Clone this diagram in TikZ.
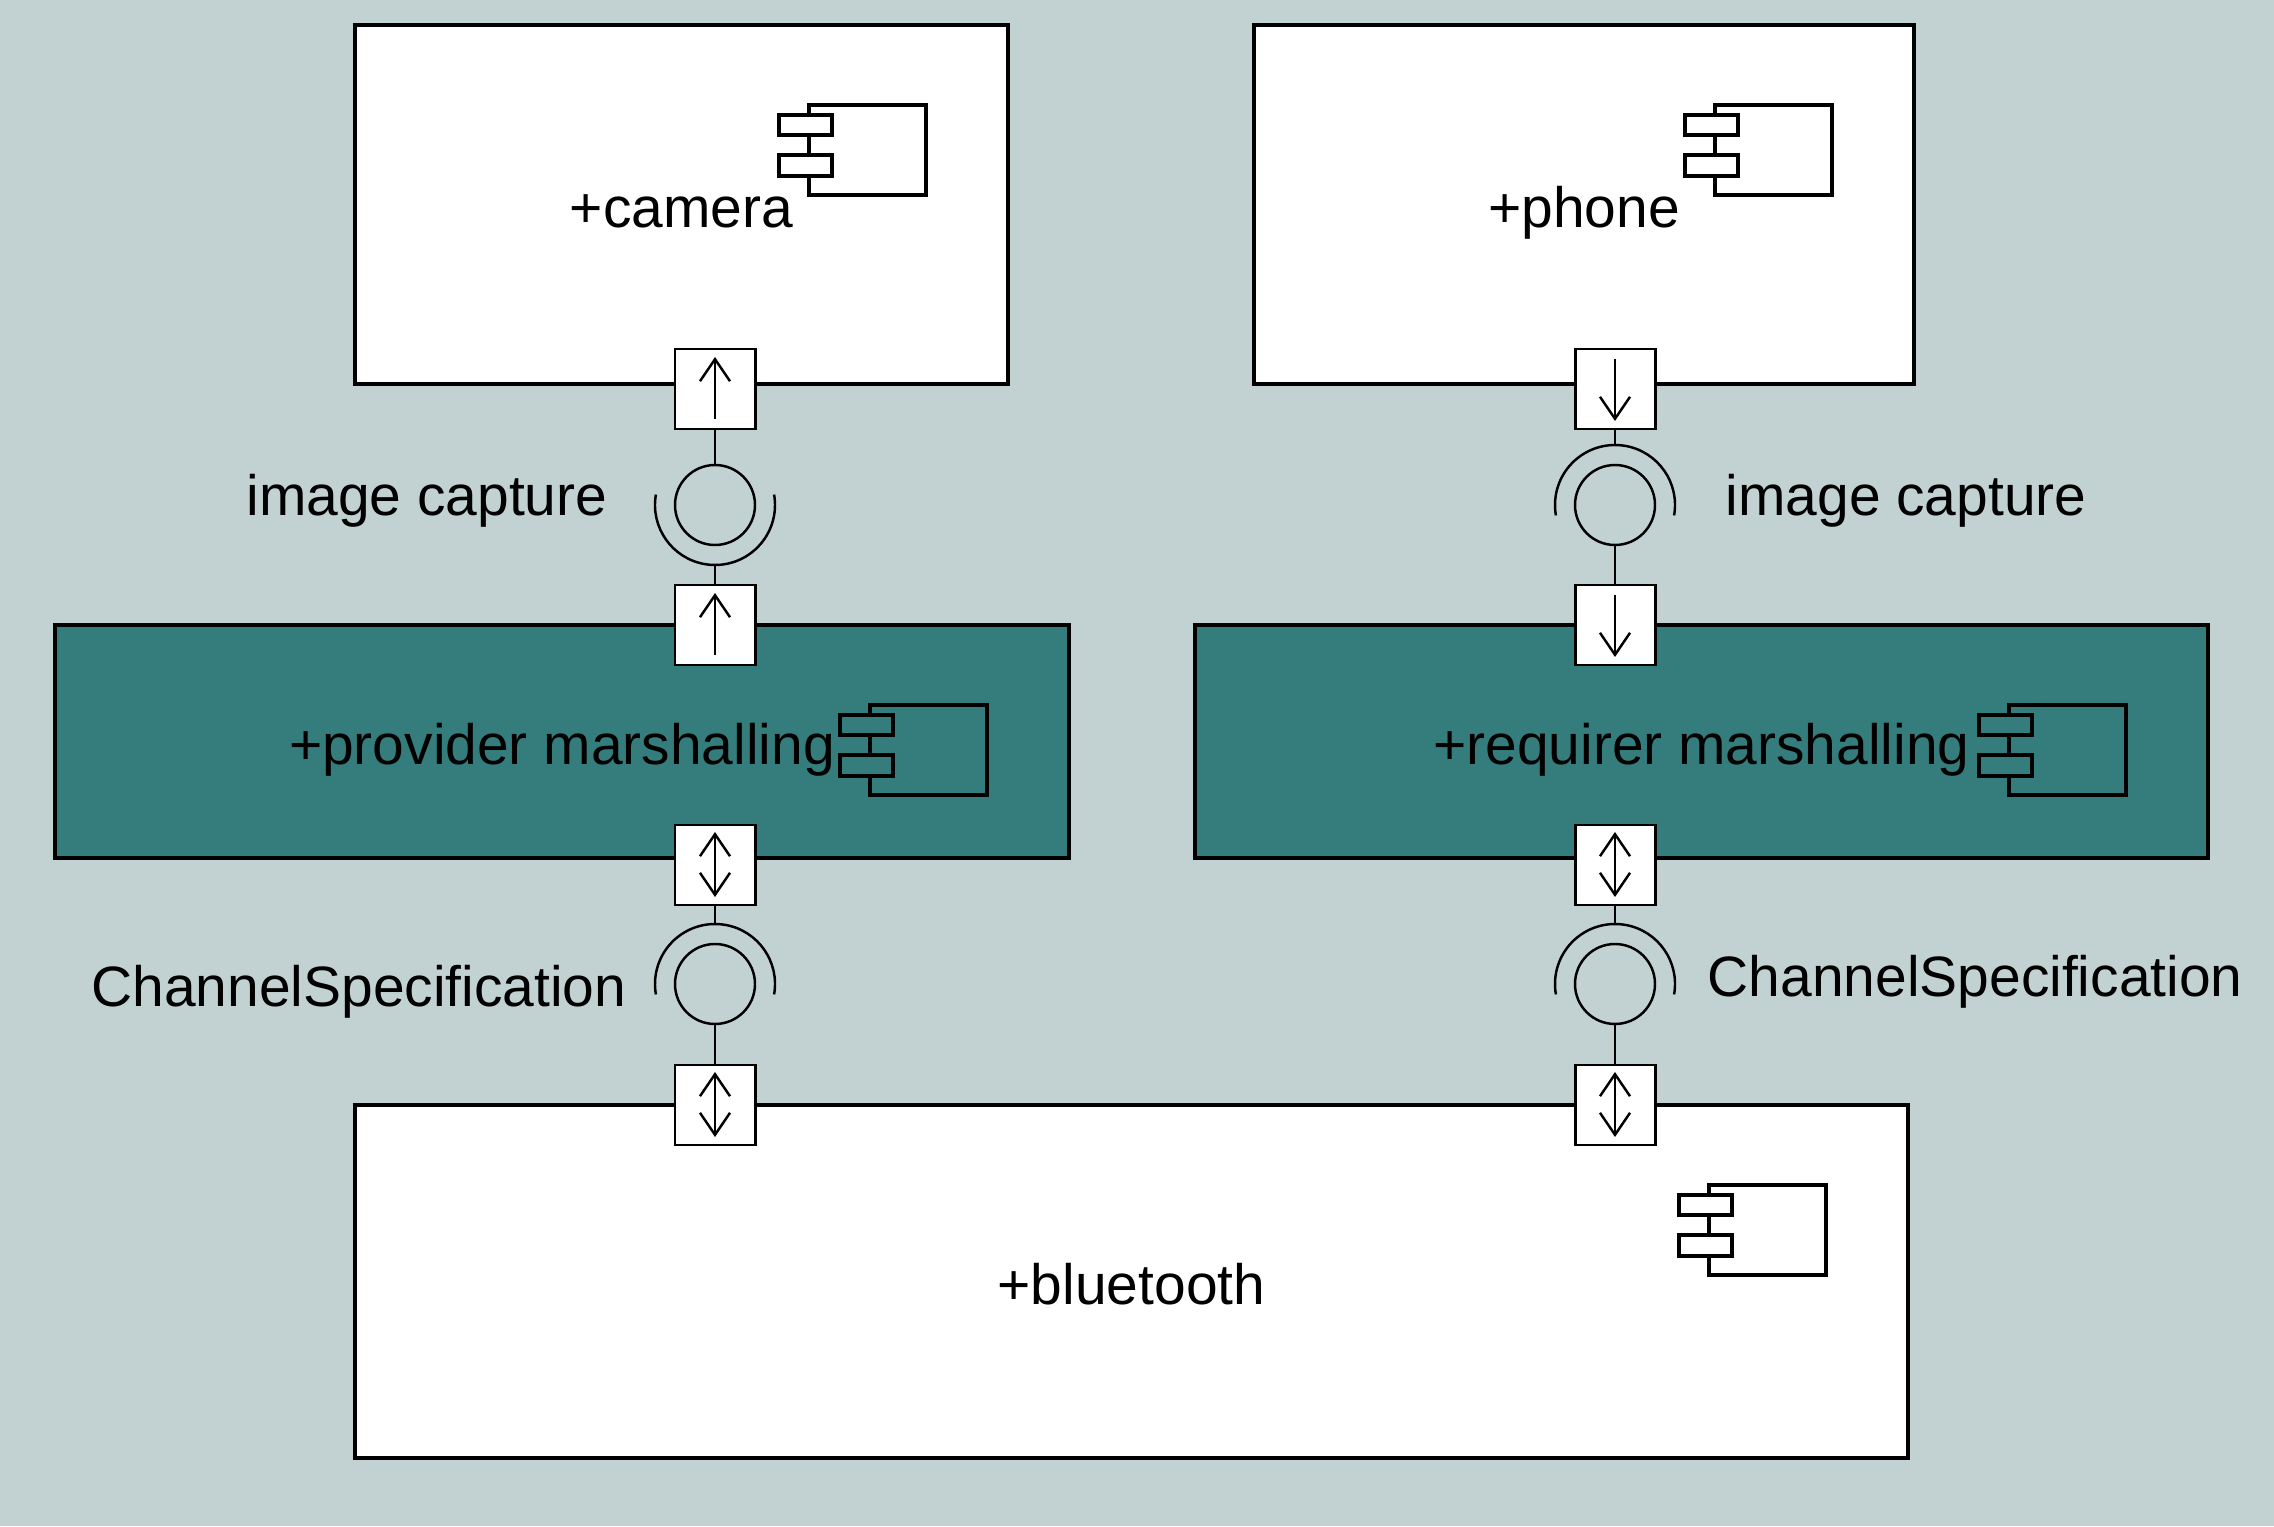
\documentclass[tikz,border=0pt]{standalone}
\usepackage{fontspec}
\setmainfont{Liberation Sans}
\usepackage{xcolor}
\definecolor{bgblue}{RGB}{194,210,210}
\definecolor{marshteal}{RGB}{53,125,125}
\usepackage{tikz}
\usetikzlibrary{arrows.meta}
\tikzset{>={Straight Barb[length=0.22cm,width=0.30cm]}}
\tikzset{
  part/.style={draw, line width=1.3pt, fill=white, inner sep=0pt, outer sep=0pt,
    text height=0.46cm, text depth=0pt, font=\fontsize{16.2}{19}\selectfont},
  marshpart/.style={part, fill=marshteal},
  port/.style={draw, fill=white, line width=0.85pt, minimum size=0.8cm,
    inner sep=0pt, outer sep=0pt},
  thinline/.style={line width=0.7pt},
  portup/.style={port, path picture={\draw[thinline,->]
    ([yshift=-0.30cm]path picture bounding box.center) -- ++(0,0.62);}},
  portdown/.style={port, path picture={\draw[thinline,->]
    ([yshift=0.30cm]path picture bounding box.center) -- ++(0,-0.62);}},
  portboth/.style={port, path picture={\draw[thinline,<->]
    ([yshift=-0.32cm]path picture bounding box.center) -- ++(0,0.65);}},
  ball/.style={circle, draw, thinline, minimum size=0.8cm, inner sep=0pt, outer sep=0pt},
  iconline/.style={line width=1.15pt},
  lbl/.style={inner sep=0pt, font=\fontsize{16.2}{19}\selectfont}
}
% component icon, #1 = corner of the part, #2 = fill
\newcommand{\compicon}[2]{%
  \begin{scope}[shift={(#1)}]
    \draw[iconline] (-1.99,-0.80) rectangle (-0.82,-1.70);
    \draw[iconline, fill=#2] (-2.29,-0.90) rectangle (-1.76,-1.10);
    \draw[iconline, fill=#2] (-2.29,-1.30) rectangle (-1.76,-1.51);
  \end{scope}}

\begin{document}
\begin{tikzpicture}
\fill[bgblue] (0,0) rectangle (22.74,15.26);
\useasboundingbox (0,0) rectangle (22.74,15.26);

% parts
\node[part, minimum width=6.53cm, minimum height=3.59cm] (camera) at (6.815,13.215) {+camera};
\node[part, minimum width=6.60cm, minimum height=3.59cm] (phone) at (15.84,13.215) {+phone};
\node[marshpart, minimum width=10.14cm, minimum height=2.33cm] (provider) at (5.62,7.845) {+provider marshalling};
\node[marshpart, minimum width=10.13cm, minimum height=2.33cm] (requirer) at (17.015,7.845) {+requirer marshalling};
\node[part, minimum width=15.53cm, minimum height=3.53cm] (bluetooth) at (11.315,2.445) {+bluetooth};

\compicon{camera.north east}{white}
\compicon{phone.north east}{white}
\compicon{provider.north east}{marshteal}
\compicon{requirer.north east}{marshteal}
\compicon{bluetooth.north east}{white}

% interfaces
\node[ball] (ballA) at (7.15,10.21) {};
\node[ball] (ballB) at (16.15,10.21) {};
\node[ball] (ballC) at (7.15,5.42) {};
\node[ball] (ballD) at (16.15,5.42) {};
\draw[thinline] (7.15,10.21) ++(170:0.6) arc[start angle=170, end angle=370, radius=0.6];
\draw[thinline] (16.15,10.21) ++(-10:0.6) arc[start angle=-10, end angle=190, radius=0.6];
\draw[thinline] (7.15,5.42) ++(-10:0.6) arc[start angle=-10, end angle=190, radius=0.6];
\draw[thinline] (16.15,5.42) ++(-10:0.6) arc[start angle=-10, end angle=190, radius=0.6];
\coordinate (sockA) at (7.15,9.61);
\coordinate (sockB) at (16.15,10.81);
\coordinate (sockC) at (7.15,6.02);
\coordinate (sockD) at (16.15,6.02);

% ports
\node[portup] (pcam) at (7.15,11.37) {};
\node[portup] (pprovup) at (7.15,9.01) {};
\node[portdown] (pphone) at (16.15,11.37) {};
\node[portdown] (prequp) at (16.15,9.01) {};
\node[portboth] (pprovdown) at (7.15,6.61) {};
\node[portboth] (preqdown) at (16.15,6.61) {};
\node[portboth] (pbtA) at (7.15,4.21) {};
\node[portboth] (pbtB) at (16.15,4.21) {};

% connectors
\draw[thinline] (pcam.south) -- (ballA.north);
\draw[thinline] (sockA) -- (pprovup.north);
\draw[thinline] (pphone.south) -- (sockB);
\draw[thinline] (ballB.south) -- (prequp.north);
\draw[thinline] (pprovdown.south) -- (sockC);
\draw[thinline] (ballC.south) -- (pbtA.north);
\draw[thinline] (preqdown.south) -- (sockD);
\draw[thinline] (ballD.south) -- (pbtB.north);

% labels
\node[lbl, anchor=base east] (capA) at (6.08,10.10) {image capture};
\node[lbl, anchor=base west] (capB) at (17.25,10.10) {image capture};
\node[lbl, anchor=base east] (chanA) at (6.27,5.20) {ChannelSpecification};
\node[lbl, anchor=base west] (chanB) at (17.07,5.30) {ChannelSpecification};
\end{tikzpicture}
\end{document}
